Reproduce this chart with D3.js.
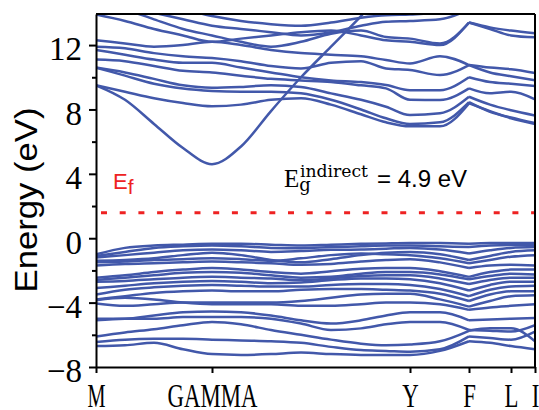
<!DOCTYPE html>
<html lang="en">
<head>
<meta charset="UTF-8">
<title>Band structure</title>
<script src="https://d3js.org/d3.v7.min.js"></script>
<style>
  body { margin: 0; background: #fff; }
  svg { display: block; }
  .band { fill: none; stroke: #4258aa; stroke-width: 2.5; stroke-linejoin: round; }
  .axis path, .axis line { stroke: #000; stroke-width: 2; }
  .axis text { font-family: 'Liberation Serif', 'Times New Roman', serif; fill: #000; }
</style>
</head>
<body>
<svg width="539" height="410"></svg>
<script>
// k-path positions of the sampled columns (M=0 ... I=4.39)
const kPos = [0, 0.29, 0.58, 0.87, 1.16, 1.45, 1.75, 2.05, 2.35, 2.65, 2.90, 3.14, 3.44, 3.73, 3.94, 4.15, 4.39];
const kTicks = [0, 1.16, 3.14, 3.73, 4.15, 4.39];
const kLabels = ["M", "GAMMA", "Y", "F", "L", "I"];
const yTicks = [-8, -4, 0, 4, 8, 12];
const yMinor = [-6, -2, 2, 6, 10];
const fermiLevel = 1.58;
const gapText = "= 4.9 eV";

// energies (eV) per band at each kPos column
const conductionBands = [
  [9.5, 8.6, 7.1, 5.6, 4.6, 5.7, 7.9, 10.0, 11.9, 13.8, 15.5, 16.5, 16.5, 16.5, 16.5, 16.5, 16.5],
  [9.5, 9.1, 8.7, 8.4, 8.2, 8.3, 8.6, 8.7, 8.3, 7.7, 7.2, 6.95, 6.95, 8.38, 7.9, 7.45, 7.1],
  [10.6, 10.1, 9.6, 9.3, 9.15, 9.1, 9.1, 9.0, 8.6, 8.0, 7.45, 7.1, 7.2, 8.45, 7.85, 7.5, 7.15],
  [10.6, 10.3, 9.9, 9.5, 9.35, 9.4, 9.5, 9.4, 9.0, 8.6, 8.17, 7.65, 7.76, 8.79, 8.3, 7.95, 7.63],
  [11.1, 11.0, 10.7, 10.4, 10.3, 10.1, 9.9, 9.8, 9.7, 9.5, 9.31, 8.6, 8.58, 9.31, 9.0, 9.1, 8.63],
  [11.7, 11.4, 11.1, 10.9, 10.9, 10.6, 10.3, 10.0, 9.8, 9.7, 9.52, 9.2, 9.2, 10.0, 9.7, 9.6, 9.46],
  [11.9, 11.8, 11.5, 11.3, 11.2, 11.0, 10.7, 10.55, 10.9, 11.0, 10.55, 10.45, 10.14, 10.76, 10.3, 10.06, 9.81],
  [12.3, 12.1, 11.9, 12.0, 12.2, 12.0, 11.7, 11.5, 11.4, 11.3, 11.07, 10.86, 11.3, 10.76, 10.6, 10.5, 10.27],
  [13.9, 13.5, 13.0, 12.6, 12.2, 12.4, 12.6, 12.8, 12.9, 12.6, 12.3, 12.2, 12.0, 13.4, 13.0, 12.6, 12.48],
  [14.5, 14.2, 13.6, 13.0, 12.6, 12.2, 11.9, 12.2, 12.7, 12.9, 12.5, 12.4, 12.1, 13.4, 13.1, 12.9, 12.73],
  [14.6, 14.4, 14.0, 13.6, 13.2, 13.0, 12.8, 12.6, 12.8, 13.2, 13.45, 13.5, 13.6, 14.2, 14.3, 14.3, 14.3],
  [13.9, 14.2, 14.5, 14.2, 13.8, 13.5, 13.3, 13.2, 13.4, 13.7, 13.86, 13.9, 14.0, 14.6, 14.5, 14.5, 14.5]
];

const valenceBands = [
  [-1.0, -0.6, -0.45, -0.4, -0.35, -0.35, -0.4, -0.45, -0.4, -0.35, -0.32, -0.3, -0.3, -0.35, -0.3, -0.3, -0.3],
  [-1.1, -0.85, -0.6, -0.5, -0.45, -0.5, -0.6, -0.62, -0.55, -0.5, -0.45, -0.45, -0.5, -0.55, -0.45, -0.42, -0.42],
  [-1.2, -1.05, -0.9, -0.75, -0.7, -0.75, -0.85, -0.8, -0.72, -0.7, -0.65, -0.6, -0.7, -0.95, -0.75, -0.6, -0.55],
  [-1.4, -1.35, -1.25, -1.05, -0.9, -1.05, -1.35, -1.5, -1.3, -1.05, -0.9, -0.85, -1.0, -1.35, -1.1, -0.85, -0.75],
  [-1.5, -1.45, -1.35, -1.3, -1.25, -1.3, -1.4, -1.25, -1.05, -0.95, -1.0, -1.05, -1.25, -1.55, -1.35, -1.15, -1.05],
  [-1.7, -1.6, -1.55, -1.5, -1.45, -1.5, -1.55, -1.65, -1.6, -1.45, -1.35, -1.3, -1.5, -1.85, -1.7, -1.65, -1.7],
  [-2.45, -2.3, -2.1, -1.95, -1.85, -1.95, -2.1, -2.2, -2.05, -1.9, -1.85, -1.85, -2.05, -2.4, -2.1, -1.95, -1.95],
  [-2.6, -2.45, -2.3, -2.15, -2.1, -2.15, -2.3, -2.45, -2.4, -2.2, -2.1, -2.1, -2.25, -2.55, -2.35, -2.2, -2.25],
  [-2.7, -2.65, -2.55, -2.45, -2.4, -2.45, -2.5, -2.6, -2.5, -2.35, -2.3, -2.3, -2.5, -2.85, -2.6, -2.45, -2.45],
  [-3.1, -2.95, -2.8, -2.7, -2.65, -2.7, -2.8, -2.75, -2.6, -2.5, -2.5, -2.55, -2.8, -3.25, -2.9, -2.7, -2.7],
  [-3.5, -3.2, -3.05, -2.95, -2.9, -2.95, -3.0, -3.0, -2.9, -2.85, -2.85, -2.9, -3.15, -3.6, -3.2, -3.0, -2.95],
  [-3.8, -3.6, -3.4, -3.3, -3.25, -3.3, -3.3, -3.2, -3.15, -3.15, -3.2, -3.25, -3.45, -3.9, -3.5, -3.3, -3.3],
  [-3.85, -3.7, -3.8, -4.0, -4.1, -4.1, -4.1, -4.2, -4.2, -4.1, -4.0, -4.0, -4.1, -4.45, -4.3, -4.2, -4.1],
  [-4.05, -4.2, -4.1, -4.0, -4.0, -4.0, -4.0, -3.9, -3.7, -3.5, -3.45, -3.45, -3.8, -4.25, -3.9, -3.6, -3.55],
  [-5.0, -5.0, -4.8, -4.6, -4.55, -4.6, -4.8, -5.1, -5.3, -5.1, -4.8, -4.6, -4.6, -5.1, -5.05, -5.0, -4.95],
  [-5.1, -5.0, -5.0, -4.9, -4.9, -4.9, -5.0, -5.3, -5.7, -5.6, -5.35, -5.2, -5.2, -5.7, -5.75, -5.8, -5.4],
  [-6.1, -5.85, -5.65, -5.4, -5.2, -5.35, -5.7, -6.0, -6.3, -6.55, -6.65, -6.6, -6.4, -5.75, -5.6, -5.6, -6.4],
  [-6.45, -6.3, -6.25, -6.25, -6.3, -6.35, -6.4, -6.5, -6.75, -6.95, -7.0, -7.05, -6.9, -6.1, -6.2, -6.3, -5.8],
  [-6.7, -6.65, -6.5, -6.9, -7.2, -7.25, -7.2, -7.1, -7.2, -7.25, -7.25, -7.25, -7.0, -6.4, -6.5, -6.7, -6.9]
];

const svg = d3.select("svg");
const plot = { left: 96, right: 535, top: 14, bottom: 367 };

const x = d3.scaleLinear().domain([0, 4.39]).range([plot.left, plot.right]);
const y = d3.scaleLinear().domain([-8, 13.93]).range([plot.bottom, plot.top]);

svg.append("clipPath").attr("id", "clip")
  .append("rect")
  .attr("x", plot.left).attr("y", plot.top)
  .attr("width", plot.right - plot.left).attr("height", plot.bottom - plot.top);

const g = svg.append("g").attr("clip-path", "url(#clip)");

// each band is drawn in two pieces so the cusp at F stays sharp
const fIndex = kPos.indexOf(3.73);
const line = d3.line()
  .x(d => x(d[0]))
  .y(d => y(d[1]))
  .curve(d3.curveMonotoneX);

const pieces = [];
conductionBands.concat(valenceBands).forEach(band => {
  const pts = band.map((e, i) => [kPos[i], e]);
  pieces.push(pts.slice(0, fIndex + 1));
  pieces.push(pts.slice(fIndex));
});

g.selectAll(".band")
  .data(pieces)
  .enter()
  .append("path")
  .attr("class", "band")
  .attr("d", line);

// Fermi level
g.append("line")
  .attr("x1", plot.left + 5).attr("x2", plot.right)
  .attr("y1", y(fermiLevel)).attr("y2", y(fermiLevel))
  .attr("stroke", "#ee2222")
  .attr("stroke-width", 3)
  .attr("stroke-dasharray", "6,12.7");

// Y axis
const yAxis = svg.append("g")
  .attr("class", "axis")
  .attr("transform", `translate(${plot.left},0)`)
  .call(d3.axisLeft(y).tickValues(yTicks).tickSize(7).tickSizeOuter(0).tickPadding(7));
yAxis.selectAll("text")
  .attr("dy", "0.45em")
  .style("font-family", "'Liberation Serif', 'Times New Roman', serif")
  .style("font-size", "33px");

svg.append("g")
  .attr("class", "axis")
  .attr("transform", `translate(${plot.left},0)`)
  .call(d3.axisLeft(y).tickValues(yMinor).tickSize(4).tickSizeOuter(0).tickFormat(""))
  .select(".domain").remove();

// X axis
const xAxis = svg.append("g")
  .attr("class", "axis")
  .attr("transform", `translate(0,${plot.bottom})`)
  .call(d3.axisBottom(x).tickValues(kTicks).tickSize(6).tickSizeOuter(0)
    .tickFormat((d, i) => kLabels[i]));
xAxis.selectAll("text")
  .attr("y", 40)
  .attr("dy", 0)
  .style("font-family", "'Liberation Serif', 'Times New Roman', serif")
  .style("font-size", "33px")
  .each(function() {
    const len = this.getComputedTextLength();
    const n = this.textContent.length;
    this.setAttribute("textLength", Math.min(len * 0.69, n * 18));
    this.setAttribute("lengthAdjust", "spacingAndGlyphs");
  });

// top and right frame
svg.append("line")
  .attr("x1", plot.left).attr("x2", plot.right)
  .attr("y1", plot.top).attr("y2", plot.top)
  .attr("stroke", "#000").attr("stroke-width", 2);
svg.append("line")
  .attr("x1", plot.right).attr("x2", plot.right)
  .attr("y1", plot.top).attr("y2", plot.bottom)
  .attr("stroke", "#000").attr("stroke-width", 2);

// axis title
svg.append("text")
  .attr("transform", "translate(37,200) rotate(-90)")
  .attr("text-anchor", "middle")
  .attr("textLength", 185)
  .attr("lengthAdjust", "spacingAndGlyphs")
  .style("font-family", "'Liberation Sans', Arial, sans-serif")
  .style("font-size", "31px")
  .text("Energy (eV)");

// E_f label
const ef = svg.append("text")
  .attr("x", 113).attr("y", 189)
  .attr("fill", "#ee2222")
  .style("font-family", "'Liberation Sans', Arial, sans-serif")
  .style("font-size", "22px");
ef.append("tspan").text("E");
ef.append("tspan").attr("dy", 5).style("font-size", "21px").text("f");

// band gap annotation: E_g^indirect = 4.9 eV
const eg = svg.append("text")
  .attr("x", 284).attr("y", 187)
  .style("font-family", "'Liberation Serif', serif")
  .style("font-size", "25px");
eg.append("tspan").text("E");
eg.append("tspan")
  .attr("dy", 4)
  .style("font-family", "'DejaVu Serif', serif")
  .style("font-size", "18px")
  .text("g");
eg.append("tspan")
  .attr("x", 300).attr("dy", -14)
  .attr("textLength", 68)
  .attr("lengthAdjust", "spacingAndGlyphs")
  .style("font-family", "'DejaVu Serif', serif")
  .style("font-size", "16px")
  .text("indirect");
eg.append("tspan")
  .attr("x", 377).attr("dy", 10)
  .style("font-family", "'Liberation Sans', Arial, sans-serif")
  .style("font-size", "24px")
  .text(gapText);
</script>
</body>
</html>
